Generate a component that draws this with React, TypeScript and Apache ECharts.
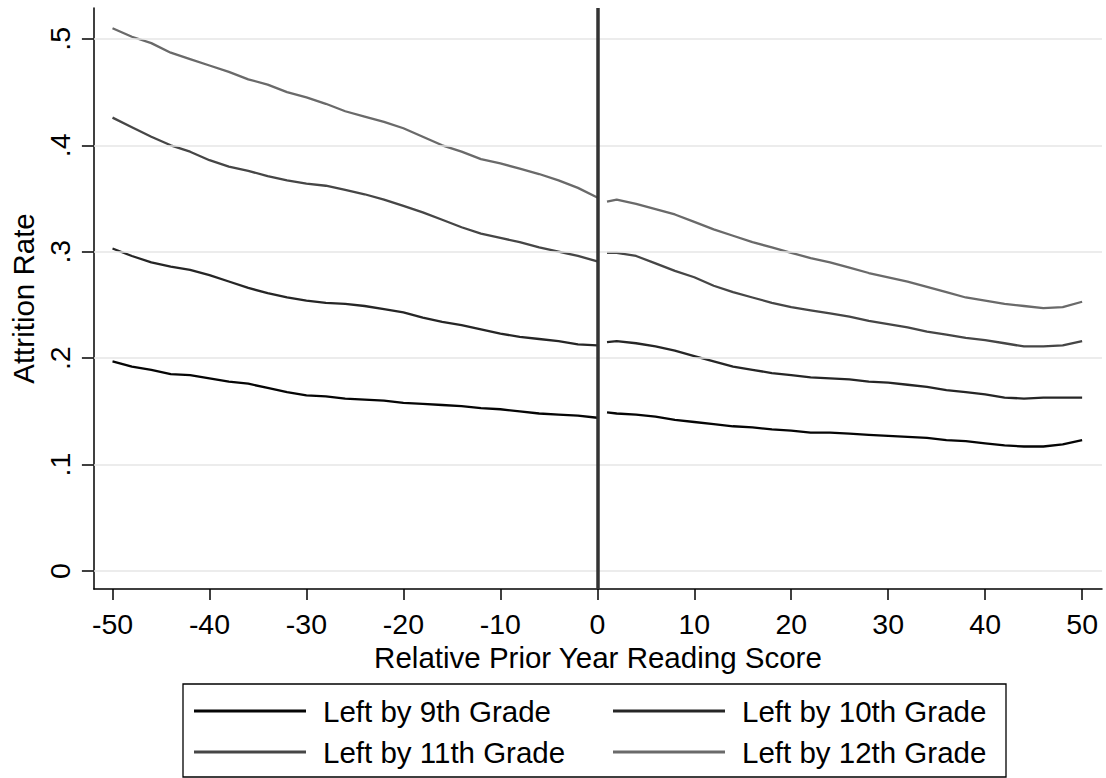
import React, { useEffect, useRef } from "react";
import * as echarts from "echarts";

// Relative prior-year reading score, below and above the cutoff
const scoreBelow = [-50, -48, -46, -44, -42, -40, -38, -36, -34, -32, -30, -28, -26, -24, -22, -20, -18, -16, -14, -12, -10, -8, -6, -4, -2, 0];
const scoreAbove = [1, 2, 4, 6, 8, 10, 12, 14, 16, 18, 20, 22, 24, 26, 28, 30, 32, 34, 36, 38, 40, 42, 44, 46, 48, 50];

// Smoothed attrition rates by grade of leaving
const grade9Below = [0.197, 0.192, 0.189, 0.185, 0.184, 0.181, 0.178, 0.176, 0.172, 0.168, 0.165, 0.164, 0.162, 0.161, 0.160, 0.158, 0.157, 0.156, 0.155, 0.153, 0.152, 0.150, 0.148, 0.147, 0.146, 0.144];
const grade9Above = [0.149, 0.148, 0.147, 0.145, 0.142, 0.140, 0.138, 0.136, 0.135, 0.133, 0.132, 0.130, 0.130, 0.129, 0.128, 0.127, 0.126, 0.125, 0.123, 0.122, 0.120, 0.118, 0.117, 0.117, 0.119, 0.123];

const grade10Below = [0.303, 0.296, 0.290, 0.286, 0.283, 0.278, 0.272, 0.266, 0.261, 0.257, 0.254, 0.252, 0.251, 0.249, 0.246, 0.243, 0.238, 0.234, 0.231, 0.227, 0.223, 0.220, 0.218, 0.216, 0.213, 0.212];
const grade10Above = [0.215, 0.216, 0.214, 0.211, 0.207, 0.202, 0.197, 0.192, 0.189, 0.186, 0.184, 0.182, 0.181, 0.180, 0.178, 0.177, 0.175, 0.173, 0.170, 0.168, 0.166, 0.163, 0.162, 0.163, 0.163, 0.163];

const grade11Below = [0.426, 0.417, 0.408, 0.400, 0.394, 0.386, 0.380, 0.376, 0.371, 0.367, 0.364, 0.362, 0.358, 0.354, 0.349, 0.343, 0.337, 0.330, 0.323, 0.317, 0.313, 0.309, 0.304, 0.300, 0.296, 0.291];
const grade11Above = [0.299, 0.299, 0.296, 0.289, 0.282, 0.276, 0.268, 0.262, 0.257, 0.252, 0.248, 0.245, 0.242, 0.239, 0.235, 0.232, 0.229, 0.225, 0.222, 0.219, 0.217, 0.214, 0.211, 0.211, 0.212, 0.216];

const grade12Below = [0.510, 0.502, 0.496, 0.487, 0.481, 0.475, 0.469, 0.462, 0.457, 0.450, 0.445, 0.439, 0.432, 0.427, 0.422, 0.416, 0.408, 0.400, 0.394, 0.387, 0.383, 0.378, 0.373, 0.367, 0.360, 0.351];
const grade12Above = [0.347, 0.349, 0.345, 0.340, 0.335, 0.328, 0.321, 0.315, 0.309, 0.304, 0.299, 0.294, 0.290, 0.285, 0.280, 0.276, 0.272, 0.267, 0.262, 0.257, 0.254, 0.251, 0.249, 0.247, 0.248, 0.253];

const seriesNames = ["Left by 9th Grade", "Left by 10th Grade", "Left by 11th Grade", "Left by 12th Grade"];
const seriesColors = ["#050505", "#262626", "#464646", "#6a6a6a"];

const xTicks = [-50, -40, -30, -20, -10, 0, 10, 20, 30, 40, 50];
const yTicks = [0, 0.1, 0.2, 0.3, 0.4, 0.5];
const yTickLabels = ["0", ".1", ".2", ".3", ".4", ".5"];
const cutoff = 0;

const FONT = "'Liberation Sans', Arial, sans-serif";

// Join the two sides of the cutoff into one series, broken at the gap
function joinSides(below: number[], above: number[]) {
  const left = scoreBelow.map((x, i) => [x, below[i]]);
  const right = scoreAbove.map((x, i) => [x, above[i]]);
  return [...left, [0.5, "-"], ...right];
}

export default function App() {
  const ref = useRef<HTMLDivElement>(null);

  useEffect(() => {
    if (!ref.current) return;
    const chart = echarts.init(ref.current, undefined, { renderer: "svg" });

    const sides = [
      [grade9Below, grade9Above],
      [grade10Below, grade10Above],
      [grade11Below, grade11Above],
      [grade12Below, grade12Above],
    ];

    const lineSeries = sides.map(([b, a], i) => ({
      name: seriesNames[i],
      type: "line",
      data: joinSides(b, a),
      color: seriesColors[i],
      showSymbol: false,
      symbol: "none",
      connectNulls: false,
      lineStyle: { color: seriesColors[i], width: 2.3 },
      z: 3,
      silent: true,
    }));

    const legendCommon = {
      orient: "vertical",
      icon: "rect",
      itemWidth: 112,
      itemHeight: 3,
      itemGap: 11,
      padding: 0,
      selectedMode: false,
      textStyle: {
        fontFamily: FONT,
        fontSize: 29.5,
        color: "#000",
        lineHeight: 30,
        padding: [0, 0, 0, 12],
      },
    };

    chart.setOption({
      animation: false,
      backgroundColor: "#fff",
      grid: { left: 88, right: 4, top: 8, bottom: 189, containLabel: false },
      xAxis: {
        type: "value",
        min: -51.92,
        max: 52.05,
        name: "Relative Prior Year Reading Score",
        nameLocation: "middle",
        nameGap: 47,
        nameTextStyle: { fontFamily: FONT, fontSize: 29.5, color: "#000" },
        axisLine: { onZero: false, lineStyle: { color: "#000", width: 1.5 } },
        axisTick: { customValues: xTicks, length: 11, lineStyle: { color: "#000", width: 1.5 } },
        axisLabel: {
          customValues: xTicks,
          fontFamily: FONT,
          fontSize: 28.5,
          color: "#000",
          margin: 20,
        },
        splitLine: { show: false },
      },
      yAxis: {
        type: "value",
        min: -0.0169,
        max: 0.529,
        name: "Attrition Rate",
        nameLocation: "middle",
        nameRotate: 90,
        nameGap: 48,
        nameTextStyle: { fontFamily: FONT, fontSize: 29.5, color: "#000" },
        axisLine: { onZero: false, lineStyle: { color: "#000", width: 1.5 } },
        axisTick: { customValues: yTicks, length: 12, lineStyle: { color: "#000", width: 1.5 } },
        axisLabel: {
          customValues: yTicks,
          rotate: 90,
          fontFamily: FONT,
          fontSize: 28.5,
          color: "#000",
          margin: 19,
          formatter: (v: number) => {
            const idx = yTicks.findIndex((t) => Math.abs(t - v) < 1e-9);
            return idx >= 0 ? yTickLabels[idx] : "";
          },
        },
        splitLine: { show: false },
      },
      legend: [
        { ...legendCommon, left: 194, top: 696, data: [seriesNames[0], seriesNames[2]] },
        { ...legendCommon, left: 613, top: 696, data: [seriesNames[1], seriesNames[3]] },
      ],
      graphic: [
        {
          type: "rect",
          shape: { x: 183, y: 684, width: 823, height: 93 },
          style: { fill: "none", stroke: "#000", lineWidth: 1.3 },
          silent: true,
        },
      ],
      series: [
        {
          name: "gridlines",
          type: "line",
          data: [],
          z: 1,
          silent: true,
          markLine: {
            silent: true,
            symbol: ["none", "none"],
            label: { show: false },
            emphasis: { disabled: true },
            lineStyle: { color: "#e6e6e6", width: 1.6, type: "solid" },
            data: yTicks.map((v) => ({ yAxis: v })),
          },
        },
        ...lineSeries,
        {
          name: "cutoff",
          type: "line",
          data: [],
          z: 5,
          silent: true,
          markLine: {
            silent: true,
            symbol: ["none", "none"],
            label: { show: false },
            emphasis: { disabled: true },
            lineStyle: { color: "#333333", width: 3.5, type: "solid" },
            data: [{ xAxis: cutoff }],
          },
        },
      ],
    });

    return () => chart.dispose();
  }, []);

  return (
    <div
      ref={ref}
      style={{ position: "fixed", left: 0, top: 0, width: 1106, height: 778, background: "#fff" }}
    />
  );
}
